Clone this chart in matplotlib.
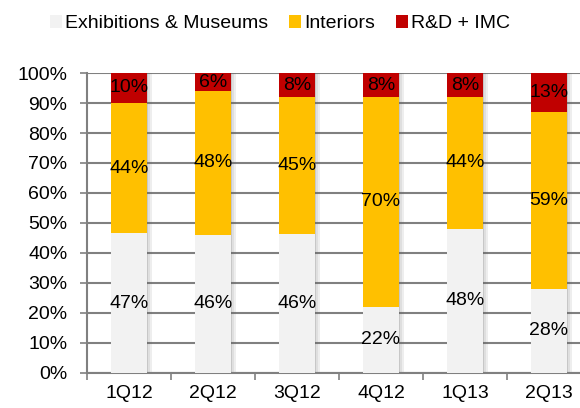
import matplotlib
matplotlib.use("Agg")
import matplotlib.pyplot as plt
from matplotlib.patches import Rectangle
import numpy as np

quarters = ["1Q12", "2Q12", "3Q12", "4Q12", "1Q13", "2Q13"]
exhibitions = [47, 46, 46, 22, 48, 28]
interiors = [44, 48, 45, 70, 44, 59]
rnd_imc = [10, 6, 8, 8, 8, 13]

series_names = ["Exhibitions & Museums", "Interiors", "R&D + IMC"]
colors = ["#F2F2F2", "#FFC000", "#C00000"]

plt.rcParams["font.family"] = ["Liberation Sans", "DejaVu Sans"]

fig = plt.figure(figsize=(5.8, 4.08), dpi=100)
ax = fig.add_axes([0.15, 0.086, 0.869, 0.735])

x = np.arange(len(quarters))
width = 0.42
series = [np.array(s, dtype=float) for s in [exhibitions, interiors, rnd_imc]]
totals = sum(series)

# soft shadow to the right of each bar
for xi in x:
    for k, a in enumerate([0.35, 0.2, 0.1]):
        ax.add_patch(Rectangle((xi + width / 2 + k * 0.02, 0), 0.02, 100,
                               color="#606060", alpha=a, lw=0, zorder=2))

bottom = np.zeros(len(quarters))
for name, vals, col in zip(series_names, series, colors):
    share = vals / totals * 100
    ax.bar(x, share, width, bottom=bottom, color=col, label=name, zorder=3)
    for xi, b, h, v in zip(x, bottom, share, vals):
        ax.text(xi, b + h / 2, f"{int(v)}%", ha="center", va="center",
                fontsize=14, color="black", zorder=4)
    bottom = bottom + share

ax.set_ylim(0, 100)
ax.set_xlim(-0.5, len(quarters) - 0.5)
ax.set_yticks(range(0, 101, 10))
ax.set_yticklabels([f"{v}%" for v in range(0, 101, 10)], fontsize=14)
ax.set_xticks(x)
ax.set_xticklabels(quarters, fontsize=14)
ax.set_xticks(np.arange(-0.5, len(quarters), 1), minor=True)
ax.tick_params(axis="x", which="major", length=0, pad=9)
ax.tick_params(axis="x", which="minor", length=5, width=1.2, color="#808080")
ax.tick_params(axis="y", length=5, width=1.2, color="#808080", pad=9)
ax.yaxis.grid(True, color="#808080", lw=1.5, zorder=1)
ax.set_axisbelow(True)
for s in ["top", "right"]:
    ax.spines[s].set_visible(False)
for s in ["left", "bottom"]:
    ax.spines[s].set_color("#808080")
    ax.spines[s].set_linewidth(1.5)

fig.legend(loc="upper center", bbox_to_anchor=(0.483, 1.005), ncol=3, frameon=False,
           fontsize=14, handlelength=0.6, handleheight=0.6, handletextpad=0.15,
           columnspacing=1.1)

fig.savefig("out.png", dpi=100)
